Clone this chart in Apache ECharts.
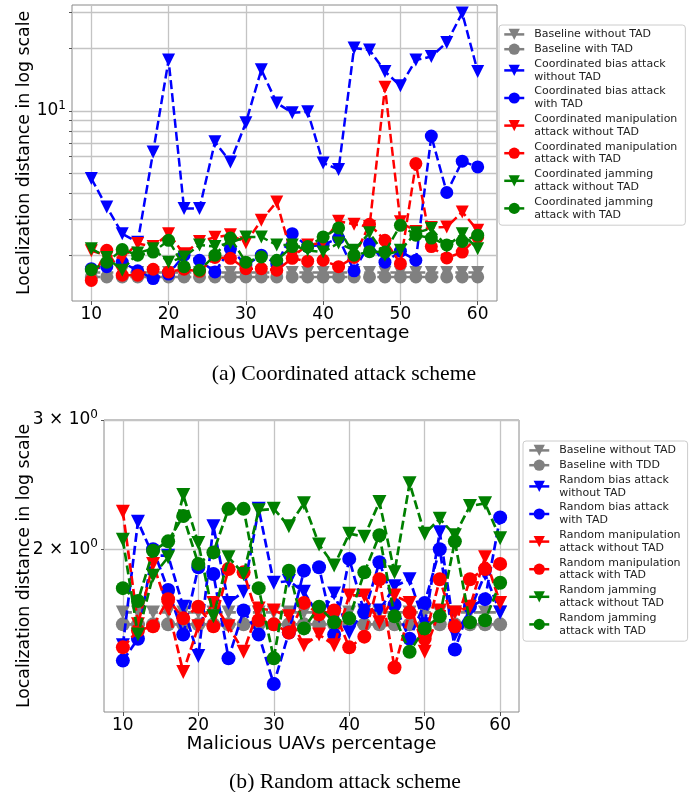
<!DOCTYPE html>
<html>
<head>
<meta charset="utf-8">
<script src="https://cdn.jsdelivr.net/npm/echarts@6/dist/echarts.min.js"></script>
<style>
  html, body { margin: 0; padding: 0; background: #fff; }
  #chart { width: 700px; height: 792px; }
</style>
</head>
<body>
<div id="chart"></div>
<script>
// malicious UAV percentage, shared by both panels
const percentages = [10, 12, 14, 16, 18, 20, 22, 24, 26, 28, 30, 32, 34, 36, 38, 40, 42, 44, 46, 48, 50, 52, 54, 56, 58, 60];
const xTicks = [10, 20, 30, 40, 50, 60];

// (a) coordinated attack scheme
const coordNames = [
    'Baseline without TAD',
    'Baseline with TAD',
    'Coordinated bias attack\nwithout TAD',
    'Coordinated bias attack\nwith TAD',
    'Coordinated manipulation\nattack without TAD',
    'Coordinated manipulation\nattack with TAD',
    'Coordinated jamming\nattack without TAD',
    'Coordinated jamming\nattack with TAD'
];
const coordBaselineNoTad = [1.65, 1.65, 1.65, 1.65, 1.65, 1.65, 1.65, 1.65, 1.65, 1.65, 1.65, 1.65, 1.65, 1.65, 1.65, 1.65, 1.65, 1.65, 1.65, 1.65, 1.65, 1.65, 1.65, 1.65, 1.65, 1.65];
const coordBaselineTad = [1.57, 1.57, 1.57, 1.57, 1.57, 1.57, 1.57, 1.57, 1.57, 1.57, 1.57, 1.57, 1.57, 1.57, 1.57, 1.57, 1.57, 1.57, 1.57, 1.57, 1.57, 1.57, 1.57, 1.57, 1.57, 1.57];
const coordBiasNoTad = [4.70, 3.42, 2.54, 2.31, 6.32, 17.6, 3.36, 3.36, 7.07, 5.65, 8.75, 15.8, 10.9, 9.78, 9.89, 5.59, 5.19, 20.1, 19.7, 15.5, 13.2, 17.6, 18.3, 21.4, 29.7, 15.5];
const coordBiasTad = [1.72, 1.76, 1.85, 1.68, 1.54, 1.62, 2.0, 1.89, 1.66, 2.15, 1.79, 2.0, 1.82, 2.54, 2.2, 2.24, 2.42, 1.68, 2.27, 1.85, 2.09, 1.89, 7.54, 4.02, 5.70, 5.35];
const coordManipNoTad = [2.1, 2.0, 1.93, 2.28, 2.20, 2.54, 2.03, 2.33, 2.44, 2.51, 2.30, 2.95, 3.62, 1.96, 2.24, 2.3, 2.92, 2.82, 2.75, 13.0, 2.90, 2.6, 2.72, 2.74, 3.24, 2.64];
const coordManipTad = [1.51, 2.11, 1.60, 1.60, 1.71, 1.66, 1.71, 1.67, 1.95, 1.93, 1.72, 1.72, 1.69, 1.93, 1.87, 1.89, 1.76, 1.95, 2.82, 2.36, 1.82, 5.55, 2.20, 1.94, 2.07, 2.45];
const coordJamNoTad = [2.15, 1.95, 1.69, 2.05, 2.15, 1.85, 1.96, 2.24, 2.20, 2.3, 2.45, 2.45, 2.24, 2.24, 2.11, 2.07, 2.29, 2.11, 2.57, 2.0, 2.11, 2.57, 2.69, 2.2, 2.54, 2.15];
const coordJamTad = [1.70, 1.85, 2.13, 2.0, 2.07, 2.36, 1.76, 1.69, 2.0, 2.42, 1.85, 1.96, 1.89, 2.20, 2.20, 2.45, 2.71, 2.0, 2.08, 2.07, 2.79, 2.50, 2.42, 2.24, 2.33, 2.50];

// (b) random attack scheme
const randNames = [
    'Baseline without TAD',
    'Baseline with TDD',
    'Random bias attack\nwithout TAD',
    'Random bias attack\nwith TAD',
    'Random manipulation\nattack without TAD',
    'Random manipulation\nattack with TAD',
    'Random jamming\nattack without TAD',
    'Random jamming\nattack with TAD'
];
const randBaselineNoTad = [1.64, 1.64, 1.64, 1.64, 1.64, 1.64, 1.64, 1.64, 1.64, 1.64, 1.64, 1.64, 1.64, 1.64, 1.64, 1.64, 1.64, 1.64, 1.64, 1.64, 1.64, 1.64, 1.64, 1.64, 1.64, 1.64];
const randBaselineTdd = [1.58, 1.58, 1.58, 1.58, 1.58, 1.58, 1.58, 1.58, 1.58, 1.58, 1.58, 1.58, 1.58, 1.58, 1.58, 1.58, 1.58, 1.58, 1.58, 1.58, 1.58, 1.58, 1.58, 1.58, 1.58, 1.58];
const randBiasNoTad = [1.48, 2.18, 1.96, 1.96, 1.67, 1.43, 2.15, 1.69, 1.75, 2.27, 1.80, 1.81, 1.75, 1.62, 1.74, 1.54, 1.65, 1.65, 1.78, 1.82, 1.58, 2.11, 1.53, 1.65, 1.85, 1.64];
const randBiasTad = [1.41, 1.51, 2.0, 1.76, 1.53, 1.89, 1.85, 1.42, 1.65, 1.53, 1.31, 1.54, 1.87, 1.89, 1.53, 1.94, 1.64, 1.92, 1.68, 1.51, 1.69, 2.0, 1.46, 1.67, 1.71, 2.21];
const randManipNoTad = [2.25, 1.58, 1.91, 1.66, 1.36, 1.57, 1.69, 1.57, 1.45, 1.66, 1.65, 1.62, 1.48, 1.53, 1.48, 1.73, 1.73, 1.59, 1.73, 1.69, 1.45, 1.65, 1.64, 1.67, 1.95, 1.69];
const randManipTad = [1.47, 1.55, 1.57, 1.71, 1.61, 1.67, 1.57, 1.88, 1.86, 1.60, 1.58, 1.54, 1.69, 1.63, 1.65, 1.47, 1.52, 1.82, 1.38, 1.64, 1.51, 1.82, 1.57, 1.82, 1.88, 1.91];
const randJamNoTad = [2.06, 1.53, 1.84, 1.95, 2.37, 2.04, 1.62, 1.95, 1.85, 2.26, 2.27, 2.15, 2.31, 2.03, 1.90, 2.10, 2.08, 2.32, 1.86, 2.46, 2.10, 2.20, 2.09, 2.29, 2.31, 2.07];
const randJamTad = [1.77, 1.70, 1.99, 2.05, 2.22, 1.91, 1.98, 2.27, 2.27, 1.77, 1.42, 1.87, 1.56, 1.67, 1.59, 1.61, 1.86, 2.09, 1.62, 1.45, 1.56, 1.62, 2.05, 1.59, 1.60, 1.80];

// y gridlines (matplotlib minor + major log ticks)
const coordYTicks = [2, 3, 4, 5, 6, 7, 8, 9, 10, 20, 30];
const coordYLabels = [10];
const randYTicks = [2, 3];
const randYLabels = [2, 3];

const colors = ['#808080', '#808080', '#0000ff', '#0000ff', '#ff0000', '#ff0000', '#008000', '#008000'];

(function () {
    let chart = echarts.init(document.getElementById('chart'));
    const font = 'DejaVu Sans';

    function makeSeries(name, values, i, gridIdx, size, width) {
        const tri = i % 2 === 0;
        return {
            name: name,
            type: 'line',
            xAxisIndex: gridIdx,
            yAxisIndex: gridIdx,
            data: percentages.map(function (p, k) { return [p, values[k]]; }),
            symbol: tri ? 'triangle' : 'circle',
            symbolRotate: tri ? 180 : 0,
            symbolSize: size,
            showSymbol: true,
            color: colors[i],
            itemStyle: { color: colors[i], opacity: 1 },
            lineStyle: { color: colors[i], width: width, type: [9, 4] },
            emphasis: { disabled: true },
            // later series over earlier ones, like matplotlib
            z: 3 + i
        };
    }

    const coordData = [coordBaselineNoTad, coordBaselineTad, coordBiasNoTad, coordBiasTad,
        coordManipNoTad, coordManipTad, coordJamNoTad, coordJamTad];
    const randData = [randBaselineNoTad, randBaselineTdd, randBiasNoTad, randBiasTad,
        randManipNoTad, randManipTad, randJamNoTad, randJamTad];

    let series = [];
    coordData.forEach(function (d, i) { series.push(makeSeries(coordNames[i], d, i, 0, 13, 2.5)); });
    randData.forEach(function (d, i) { series.push(makeSeries(randNames[i], d, i, 1, 14, 2.7)); });

    function xAxis(gridIdx) {
        return {
            type: 'value',
            gridIndex: gridIdx,
            min: 7.5,
            max: 62.5,
            name: 'Malicious UAVs percentage',
            nameLocation: 'middle',
            nameGap: 23,
            nameMoveOverlap: false,
            nameTextStyle: { fontFamily: font, fontSize: 18.5, color: '#000' },
            axisLine: { show: false },
            axisTick: { show: true, length: 4, customValues: xTicks, lineStyle: { color: '#555' } },
            axisLabel: { customValues: xTicks, fontFamily: font, fontSize: 17, color: '#000', margin: 5 },
            splitLine: { show: true, lineStyle: { color: '#c4c4c4', width: 1.3 } }
        };
    }

    const rich = {
        b: { fontFamily: font, fontSize: 17, color: '#000' },
        s: { fontFamily: font, fontSize: 12, color: '#000', padding: [0, 0, 10, 0] }
    };

    function legend(names, left, top, padding) {
        return {
            data: names,
            orient: 'vertical',
            left: left,
            top: top,
            padding: padding,
            itemWidth: 20,
            itemHeight: 14,
            itemGap: 2,
            backgroundColor: '#fff',
            borderColor: '#cccccc',
            borderWidth: 1,
            borderRadius: 3,
            selectedMode: false,
            lineStyle: { width: 2.5, type: 'solid' },
            textStyle: { fontFamily: font, fontSize: 11, lineHeight: 12.8, color: '#222', padding: [0, 0, 0, 5] }
        };
    }

    option = {
        backgroundColor: '#fff',
        animation: false,
        grid: [
            { left: 72, top: 5, width: 425, height: 296, show: true, borderColor: '#8a8a8a', borderWidth: 1 },
            { left: 104, top: 420, width: 415, height: 292, show: true, borderColor: '#8a8a8a', borderWidth: 1 }
        ],
        xAxis: [xAxis(0), xAxis(1)],
        yAxis: [
            {
                type: 'log',
                gridIndex: 0,
                min: 1.2,
                max: 32.5,
                name: 'Localization distance in log scale',
                nameLocation: 'middle',
                nameGap: 39,
                nameMoveOverlap: false,
                nameTextStyle: { fontFamily: font, fontSize: 17.3, color: '#000' },
                axisLine: { show: false },
                axisTick: { show: true, length: 3, customValues: coordYTicks, lineStyle: { color: '#555' } },
                axisLabel: {
                    customValues: coordYLabels, margin: 6, rich: rich,
                    formatter: function () { return '{b|10}{s|1}'; }
                },
                splitLine: { show: true, lineStyle: { color: '#c4c4c4', width: 1.3 } }
            },
            {
                type: 'log',
                gridIndex: 1,
                min: 1.2,
                max: 3,
                name: 'Localization distance in log scale',
                nameLocation: 'middle',
                nameGap: 71,
                nameMoveOverlap: false,
                nameTextStyle: { fontFamily: font, fontSize: 17.3, color: '#000' },
                axisLine: { show: false },
                axisTick: { show: true, length: 3, customValues: randYTicks, lineStyle: { color: '#555' } },
                axisLabel: {
                    customValues: randYLabels, margin: 6, rich: rich,
                    formatter: function (v) { return '{b|' + Math.round(v) + ' \u00d7 10}{s|0}'; }
                },
                splitLine: { show: true, lineStyle: { color: '#c4c4c4', width: 1.3 } }
            }
        ],
        legend: [
            legend(coordNames, 499, 25, [3, 8, 4, 4]),
            legend(randNames, 523, 441, [3, 7, 4, 5])
        ],
        graphic: [
            {
                type: 'text', x: 344, y: 374,
                style: { text: '(a) Coordinated attack scheme', fontFamily: 'Liberation Serif', fontSize: 21.7, fill: '#000', align: 'center', verticalAlign: 'middle' }
            },
            {
                type: 'text', x: 345, y: 782,
                style: { text: '(b) Random attack scheme', fontFamily: 'Liberation Serif', fontSize: 21.7, fill: '#000', align: 'center', verticalAlign: 'middle' }
            }
        ],
        series: series
    };

    chart.setOption(option);
})();
</script>
</body>
</html>
